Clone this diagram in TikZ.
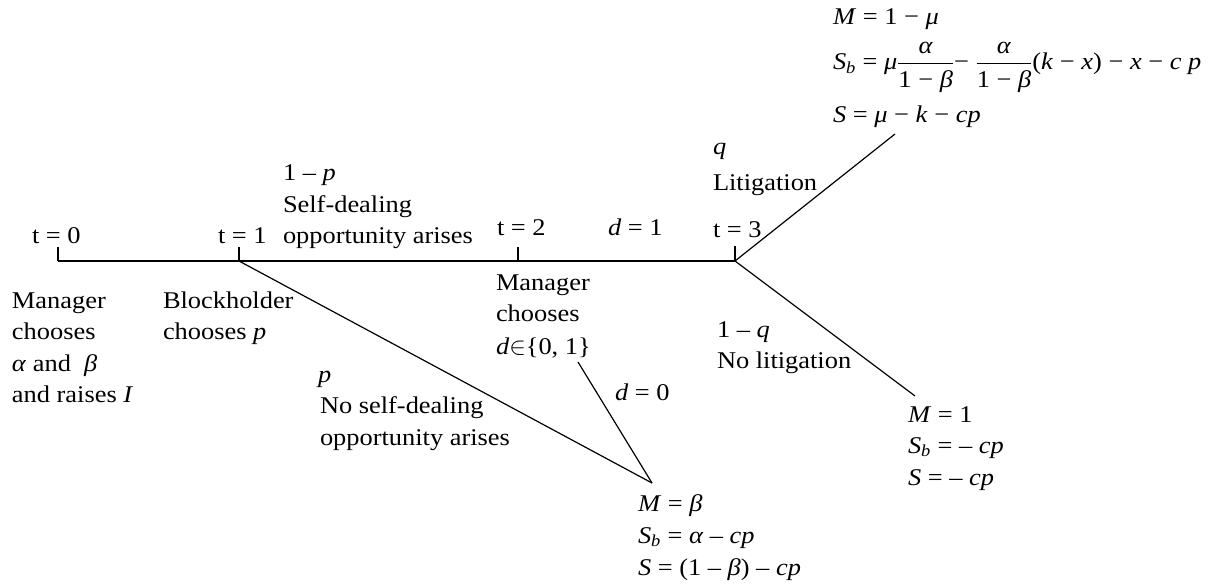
\documentclass[tikz,border=0pt]{standalone}
\usepackage{amsmath}
\usepackage{fontspec}
\setmainfont{Liberation Serif}[FakeStretch=1.1]
\newcommand{\Sb}{\textit{S}\textsubscript{\textit{b}}}
\newcommand{\afr}{$\dfrac{\mbox{\textit{α}}}{\mbox{1 − \textit{β}}}$}
\begin{document}
\begin{tikzpicture}[x=1pt,y=-1pt,
  ln/.style={line width=1.2pt},
  txt/.style={inner sep=0pt,outer sep=0pt,anchor=base west,font=\fontsize{24}{31}\selectfont}]
\useasboundingbox (0,0) rectangle (1220,588);
% tree points
\coordinate (t0) at (58,261);
\coordinate (t1) at (239,261);
\coordinate (t2) at (518,261);
\coordinate (t3) at (735,261);
\coordinate (t0u) at (58,247);
\coordinate (t1u) at (239,247);
\coordinate (t2u) at (518,247);
\coordinate (t3u) at (735,246);
\coordinate (up) at (895,134);
\coordinate (dn) at (915,396);
\coordinate (apex) at (652,483);
\coordinate (dz) at (578,362);
% connectors
\draw[ln] (t0) -- (t3);
\draw[ln] (t0) -- (t0u);
\draw[ln] (t1) -- (t1u);
\draw[ln] (t2) -- (t2u);
\draw[ln] (t3) -- (t3u);
\draw[ln] (t3) -- (up);
\draw[ln] (t3) -- (dn);
\draw[ln] (t1) -- (apex);
\draw[ln] (dz) -- (apex);
% time labels
\node[txt] (lt0) at (32,243) {t = 0};
\node[txt] (lt1) at (218,243) {t = 1};
\node[txt] (lt2) at (497,235) {t = 2};
\node[txt] (ld1) at (608,235) {\textit{d} = 1};
\node[txt] (lt3) at (713,237) {t = 3};
% litigation
\node[txt] (lq) at (713,155) {\textit{q}};
\node[txt] (llit) at (713,190) {Litigation};
% self-dealing
\node[txt] (l1p) at (283,181) {1 – \textit{p}};
\node[txt] (lsd) at (283,212) {Self-dealing};
\node[txt] (loa) at (283,243) {opportunity arises};
% manager t0
\node[txt] (m1) at (12,308) {Manager};
\node[txt] (m2) at (12,339) {chooses};
\node[txt] (m3) at (12,371) {\textit{α} and\ \ \textit{β}};
\node[txt] (m4) at (12,402) {and raises \textit{I}};
% blockholder
\node[txt] (b1) at (163,308) {Blockholder};
\node[txt] (b2) at (163,339) {chooses \textit{p}};
% manager t2
\node[txt] (n1) at (496,290) {Manager};
\node[txt] (n2) at (496,321) {chooses};
\node[txt] (n3) at (496,354) {\textit{d}$\in$\{0, 1\}};
% no litigation
\node[txt] (nq) at (717,337) {1 – \textit{q}};
\node[txt] (nl) at (717,368) {No litigation};
% no self-dealing
\node[txt] (np) at (318,382) {\textit{p}};
\node[txt] (ns) at (320,413) {No self-dealing};
\node[txt] (no) at (320,445) {opportunity arises};
\node[txt] (ld0) at (615,400) {\textit{d} = 0};
% payoffs bottom
\node[txt] (pa1) at (638,511) {\textit{M} = \textit{β}};
\node[txt] (pa2) at (638,543) {\Sb{} = \textit{α} – \textit{cp}};
\node[txt] (pa3) at (638,575) {\textit{S} = (1 – \textit{β}) – \textit{cp}};
% payoffs right
\node[txt] (pb1) at (908,422) {\textit{M} = 1};
\node[txt] (pb2) at (908,453) {\Sb{} = – \textit{cp}};
\node[txt] (pb3) at (908,485) {\textit{S} = – \textit{cp}};
% payoffs top
\node[txt] (pc1) at (833,25) {\textit{M} = 1 − \textit{μ}};
\node[txt] (pc2) at (833,70) {\Sb{} = \textit{μ}\afr{}− \afr{}(\textit{k} − \textit{x}) − \textit{x} − \textit{c p}};
\node[txt] (pc3) at (833,123) {\textit{S} = \textit{μ} − \textit{k} − \textit{cp}};
\end{tikzpicture}
\end{document}
